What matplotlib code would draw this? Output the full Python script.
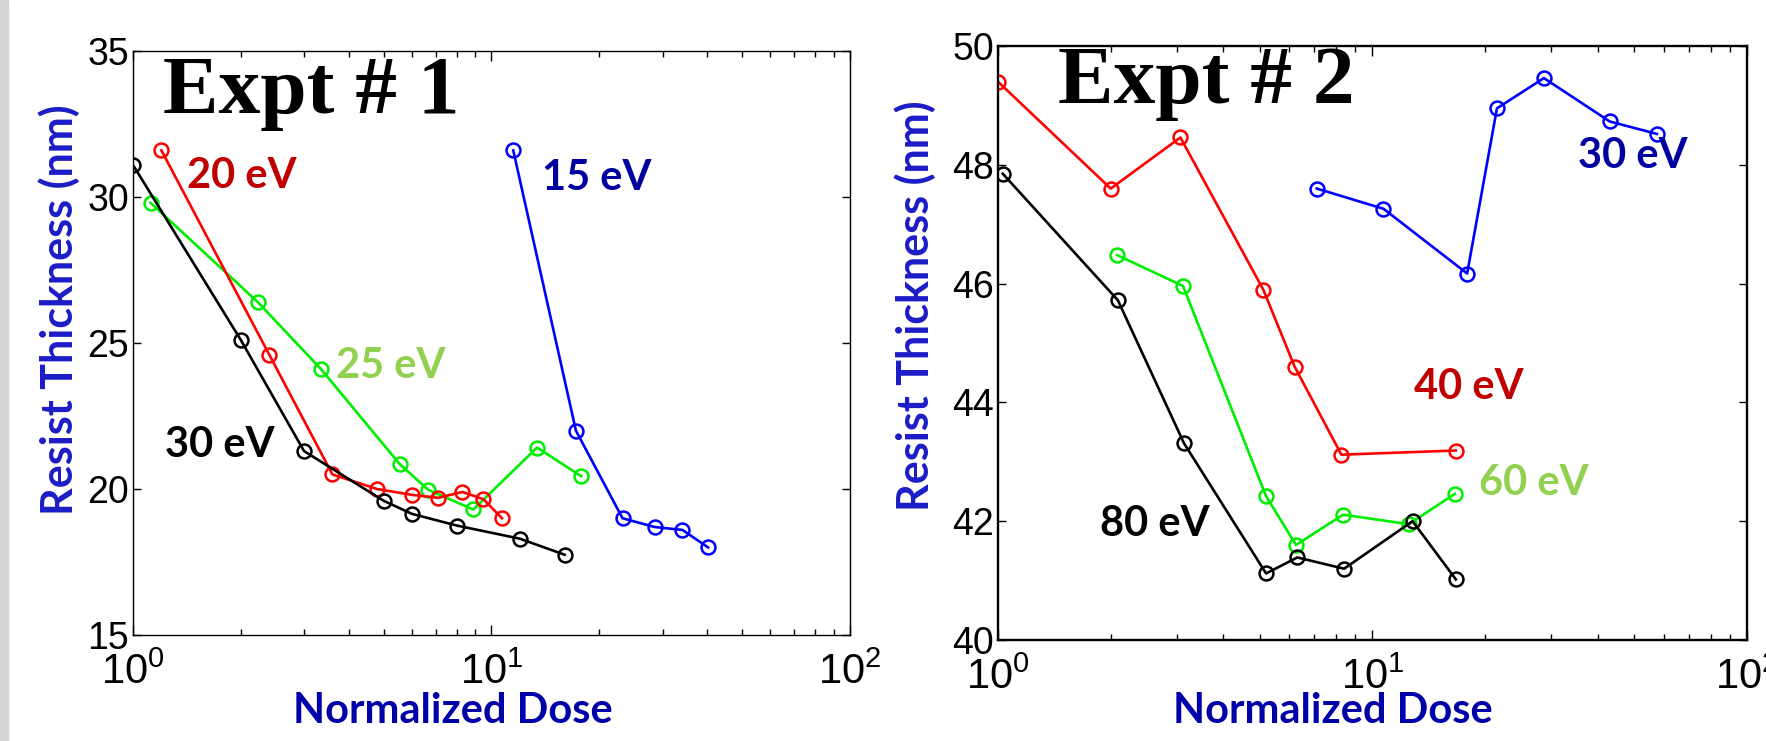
import numpy as np
import matplotlib
matplotlib.use("Agg")
import matplotlib.pyplot as plt
from matplotlib.patches import Rectangle

plt.rcParams['font.family'] = ['Liberation Sans', 'DejaVu Sans']

# ---- Expt 1 data (normalized dose, resist thickness nm)
e1_15_x = [11.5, 17.2, 23.2, 28.5, 34.1, 40.2]
e1_15_y = [31.6, 22.0, 19.0, 18.7, 18.6, 18.0]
e1_20_x = [1.2, 2.4, 3.6, 4.8, 6.0, 7.1, 8.3, 9.5, 10.7]
e1_20_y = [31.6, 24.6, 20.5, 20.0, 19.8, 19.7, 19.9, 19.65, 19.0]
e1_25_x = [1.12, 2.23, 3.35, 5.55, 6.67, 8.9, 13.4, 17.8]
e1_25_y = [29.8, 26.4, 24.1, 20.85, 19.97, 19.3, 21.42, 20.44]
e1_30_x = [1.0, 2.0, 3.0, 5.0, 6.0, 8.0, 12.0, 16.0]
e1_30_y = [31.1, 25.1, 21.3, 19.6, 19.15, 18.75, 18.3, 17.75]

# ---- Expt 2 data
e2_30_x = [7.1, 10.7, 17.9, 21.5, 28.7, 43.0, 57.5]
e2_30_y = [47.6, 47.26, 46.17, 48.95, 49.46, 48.73, 48.52]
e2_40_x = [1.0, 2.0, 3.07, 5.11, 6.2, 8.26, 16.7]
e2_40_y = [49.4, 47.6, 48.46, 45.9, 44.6, 43.12, 43.19]
e2_60_x = [2.08, 3.12, 5.2, 6.25, 8.35, 12.5, 16.6]
e2_60_y = [46.48, 45.96, 42.42, 41.6, 42.11, 41.95, 42.46]
e2_80_x = [1.03, 2.09, 3.14, 5.2, 6.3, 8.4, 12.8, 16.7]
e2_80_y = [47.85, 45.72, 43.31, 41.12, 41.39, 41.2, 42.0, 41.02]

xtick_vals = [1, 10, 100]
xtick_labels = [r'$\mathregular{10^{0}}$', r'$\mathregular{10^{1}}$', r'$\mathregular{10^{2}}$']

fig = plt.figure(figsize=(17.66, 7.41), dpi=100)
fig.patches.append(Rectangle((0, 0), 8 / 1766, 1, transform=fig.transFigure,
                             color='#d4d4d4', zorder=0))

ax1 = fig.add_axes([0.0753, 0.1430, 0.4060, 0.7881])
ax2 = fig.add_axes([0.5651, 0.1363, 0.4241, 0.8016])

lab_font = dict(family=['Lato', 'DejaVu Sans'], fontweight='bold')
title_font = dict(family=['Liberation Serif', 'DejaVu Serif'], fontweight='bold')


def draw(ax, x, y, c):
    ax.plot(x, y, '-o', color=c, lw=1.9, ms=10, mfc='none', mew=1.8)


draw(ax1, e1_15_x, e1_15_y, '#0000ff')
draw(ax1, e1_25_x, e1_25_y, '#00ee00')
draw(ax1, e1_20_x, e1_20_y, '#ff0000')
draw(ax1, e1_30_x, e1_30_y, 'black')

draw(ax2, e2_30_x, e2_30_y, '#0000ff')
draw(ax2, e2_40_x, e2_40_y, '#ff0000')
draw(ax2, e2_60_x, e2_60_y, '#00ee00')
draw(ax2, e2_80_x, e2_80_y, 'black')

for ax, lo, hi, step, sw in [(ax1, 15, 35, 5, 1.0), (ax2, 40, 50, 2, 1.7)]:
    ax.set_xscale('log')
    ax.set_xlim(1, 100)
    ax.set_xticks(xtick_vals, xtick_labels)
    ax.set_ylim(lo, hi)
    ax.set_yticks(np.arange(lo, hi + 0.1, step))
    ax.tick_params(which='both', direction='in', top=True, right=True, width=1.0)
    ax.tick_params(axis='x', which='major', length=7, pad=13, labelsize=30)
    ax.tick_params(axis='x', which='minor', length=4)
    ax.tick_params(axis='y', which='major', length=6, pad=3, labelsize=27)
    for s in ax.spines.values():
        s.set_linewidth(sw)

# panel titles
ax1.text(0.042, 0.894, 'Expt # 1', transform=ax1.transAxes, fontsize=60,
         va='baseline', ha='left', **title_font)
ax2.text(0.080, 0.904, 'Expt # 2', transform=ax2.transAxes, fontsize=60,
         va='baseline', ha='left', **title_font)

# curve labels
ax1.text(0.075, 0.765, '20 eV', color='#c00000', fontsize=30,
         transform=ax1.transAxes, va='baseline', **lab_font)
ax1.text(0.570, 0.762, '15 eV', color='#0000a0', fontsize=30,
         transform=ax1.transAxes, va='baseline', **lab_font)
ax1.text(0.283, 0.440, '25 eV', color='#92d050', fontsize=30,
         transform=ax1.transAxes, va='baseline', **lab_font)
ax1.text(0.045, 0.305, '30 eV', color='black', fontsize=30,
         transform=ax1.transAxes, va='baseline', **lab_font)

ax2.text(0.774, 0.795, '30 eV', color='#0000a0', fontsize=30,
         transform=ax2.transAxes, va='baseline', **lab_font)
ax2.text(0.555, 0.406, '40 eV', color='#c00000', fontsize=30,
         transform=ax2.transAxes, va='baseline', **lab_font)
ax2.text(0.642, 0.244, '60 eV', color='#92d050', fontsize=30,
         transform=ax2.transAxes, va='baseline', **lab_font)
ax2.text(0.136, 0.175, '80 eV', color='black', fontsize=30,
         transform=ax2.transAxes, va='baseline', **lab_font)

# axis labels
for xc, yc in [(0.0335, 0.582), (0.518, 0.588)]:
    fig.text(xc, yc, 'Resist Thickness (nm)', rotation=90, color='#1c1cc8',
             fontsize=31, ha='center', va='center', **lab_font)
for xc in [0.2565, 0.755]:
    fig.text(xc, 0.040, 'Normalized Dose', color='#0000a8', fontsize=30,
             ha='center', va='center', **lab_font)

fig.savefig('out.png', dpi=100)
